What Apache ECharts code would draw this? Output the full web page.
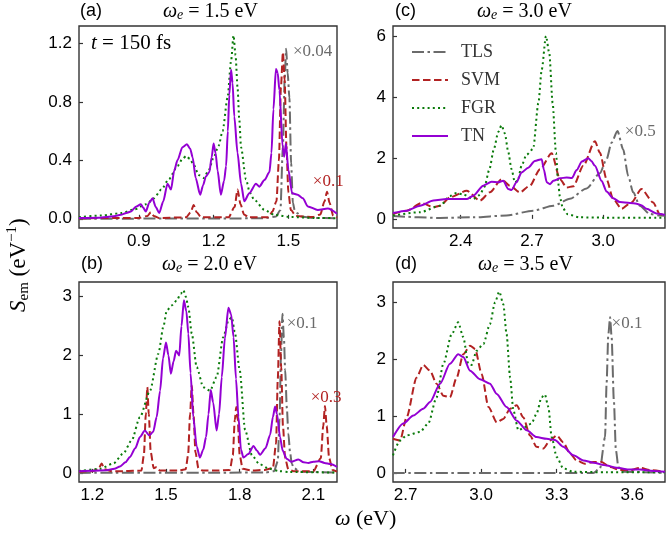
<!DOCTYPE html>
<html><head><meta charset="utf-8">
<script src="https://cdn.jsdelivr.net/npm/echarts@6/dist/echarts.min.js"></script>
<style>html,body{margin:0;padding:0;background:#fff}#c{width:666px;height:541px}</style>
</head><body><div id="c"></div>
<script>
// ---------- panel (a): omega_e = 1.5 eV ----------
const tlsA = [[0.66,0],[1.40,0.003],[1.45,0.015],[1.468,0.06],[1.478,0.5],[1.485,0.95],[1.491,1.165],[1.497,1.0],[1.504,0.83],[1.511,0.38],[1.518,0.11],[1.525,0.06],[1.535,0.04],[1.55,0.015],[1.60,0.006],[1.695,0.003]];
const svmA = [[0.66,0.004],[0.90,0.006],[0.935,0.02],[0.948,0.045],[0.96,0.02],[0.98,0.006],[1.09,0.01],[1.108,0.045],[1.12,0.095],[1.132,0.045],[1.15,0.01],[1.26,0.01],[1.284,0.08],[1.296,0.20],[1.308,0.10],[1.322,0.03],[1.34,0.01],[1.42,0.01],[1.436,0.05],[1.452,0.12],[1.462,0.40],[1.470,0.90],[1.478,1.14],[1.485,0.95],[1.492,0.50],[1.50,0.18],[1.51,0.06],[1.53,0.02],[1.60,0.012],[1.628,0.03],[1.645,0.12],[1.655,0.186],[1.665,0.11],[1.68,0.02],[1.695,0.008]];
const fgrA = [[0.66,0.012],[0.75,0.022],[0.828,0.039],[0.883,0.065],[0.93,0.10],[0.96,0.14],[0.99,0.20],[1.02,0.27],[1.055,0.36],[1.075,0.41],[1.09,0.43],[1.105,0.41],[1.12,0.37],[1.14,0.30],[1.16,0.28],[1.18,0.33],[1.20,0.42],[1.22,0.50],[1.236,0.60],[1.256,0.83],[1.270,1.08],[1.280,1.255],[1.288,1.12],[1.296,0.90],[1.303,0.68],[1.310,0.49],[1.330,0.27],[1.345,0.18],[1.363,0.13],[1.404,0.061],[1.444,0.027],[1.51,0.012],[1.60,0.006],[1.695,0.004]];
const tnA = [[0.66,0.005],[0.74,0.008],[0.80,0.018],[0.828,0.027],[0.850,0.040],[0.868,0.05],[0.890,0.085],[0.908,0.10],[0.918,0.075],[0.928,0.05],[0.942,0.11],[0.955,0.14],[0.968,0.08],[0.982,0.04],[0.998,0.12],[1.015,0.24],[1.029,0.20],[1.042,0.33],[1.055,0.40],[1.075,0.49],[1.093,0.51],[1.106,0.48],[1.116,0.42],[1.128,0.28],[1.146,0.165],[1.158,0.23],[1.169,0.29],[1.183,0.32],[1.192,0.42],[1.200,0.515],[1.208,0.45],[1.216,0.33],[1.229,0.165],[1.242,0.26],[1.250,0.36],[1.257,0.60],[1.263,0.85],[1.270,1.02],[1.276,0.93],[1.283,0.70],[1.296,0.45],[1.310,0.24],[1.323,0.12],[1.343,0.175],[1.37,0.24],[1.383,0.22],[1.404,0.265],[1.424,0.32],[1.432,0.45],[1.440,0.75],[1.450,1.025],[1.457,1.00],[1.464,0.88],[1.477,0.49],[1.483,0.425],[1.490,0.515],[1.500,0.335],[1.515,0.175],[1.537,0.165],[1.558,0.14],[1.578,0.085],[1.618,0.06],[1.658,0.07],[1.695,0.035]];

// ---------- panel (b): omega_e = 2.0 eV ----------
const tlsB = [[1.146,0],[1.90,0.005],[1.94,0.03],[1.955,0.2],[1.962,0.9],[1.968,2.0],[1.974,2.71],[1.980,2.3],[1.985,1.75],[1.992,1.1],[1.998,0.67],[2.005,0.35],[2.012,0.15],[2.022,0.08],[2.035,0.05],[2.05,0.02],[2.196,0.005]];
const svmB = [[1.146,0.02],[1.20,0.03],[1.225,0.06],[1.238,0.16],[1.25,0.06],[1.28,0.03],[1.33,0.03],[1.40,0.04],[1.41,0.3],[1.418,1.0],[1.424,1.46],[1.43,1.0],[1.438,0.35],[1.45,0.08],[1.462,0.10],[1.475,0.04],[1.55,0.04],[1.58,0.06],[1.59,0.3],[1.598,1.0],[1.605,1.49],[1.612,1.0],[1.62,0.35],[1.632,0.08],[1.65,0.04],[1.70,0.04],[1.76,0.05],[1.772,0.3],[1.78,0.9],[1.786,1.12],[1.792,0.9],[1.80,0.3],[1.812,0.07],[1.85,0.04],[1.90,0.05],[1.935,0.08],[1.948,0.5],[1.955,1.6],[1.962,2.58],[1.969,1.8],[1.976,0.8],[1.985,0.25],[1.998,0.06],[2.02,0.03],[2.10,0.03],[2.13,0.25],[2.14,0.8],[2.147,1.14],[2.154,0.8],[2.164,0.25],[2.178,0.05],[2.196,0.02]];
const fgrB = [[1.146,0.03],[1.231,0.07],[1.286,0.16],[1.326,0.33],[1.36,0.55],[1.394,0.95],[1.435,1.40],[1.469,2.03],[1.49,2.5],[1.503,2.76],[1.523,2.85],[1.543,2.93],[1.56,3.05],[1.571,3.11],[1.581,3.0],[1.591,2.82],[1.605,2.37],[1.625,1.8],[1.652,1.46],[1.679,1.40],[1.706,1.63],[1.733,2.31],[1.755,2.6],[1.768,2.65],[1.78,2.4],[1.80,1.75],[1.822,0.73],[1.85,0.30],[1.88,0.15],[1.92,0.07],[1.96,0.03],[2.0,0.015],[2.196,0.005]];
const tnB = [[1.146,0.03],[1.20,0.035],[1.258,0.045],[1.29,0.07],[1.313,0.11],[1.335,0.18],[1.353,0.27],[1.375,0.42],[1.394,0.61],[1.414,0.72],[1.432,0.64],[1.448,0.70],[1.462,0.95],[1.476,1.40],[1.488,1.95],[1.50,2.22],[1.51,2.0],[1.52,1.69],[1.531,1.9],[1.541,2.08],[1.554,2.0],[1.563,2.5],[1.573,2.94],[1.583,2.75],[1.591,2.37],[1.60,1.7],[1.611,0.95],[1.625,0.45],[1.638,0.26],[1.652,0.4],[1.663,0.61],[1.673,1.0],[1.682,1.41],[1.692,1.2],[1.706,0.72],[1.716,1.0],[1.727,1.63],[1.74,2.3],[1.754,2.81],[1.765,2.7],[1.775,2.31],[1.785,1.6],[1.795,0.95],[1.805,0.4],[1.815,0.26],[1.835,0.32],[1.856,0.46],[1.87,0.38],[1.883,0.31],[1.905,0.42],[1.924,0.65],[1.935,0.95],[1.944,1.13],[1.952,1.0],[1.964,0.61],[1.975,0.38],[1.991,0.24],[2.01,0.19],[2.039,0.23],[2.06,0.18],[2.08,0.17],[2.10,0.19],[2.123,0.2],[2.145,0.17],[2.17,0.15],[2.196,0.1]];

// ---------- panel (c): omega_e = 3.0 eV ----------
const tlsC = [[2.115,0.09],[2.313,0.03],[2.453,0.05],[2.593,0.11],[2.705,0.27],[2.79,0.43],[2.86,0.66],[2.93,1.0],[2.986,1.5],[3.014,1.96],[3.035,2.5],[3.06,2.88],[3.084,2.28],[3.105,1.41],[3.126,0.87],[3.154,0.43],[3.196,0.16],[3.238,0.11],[3.26,0.1]];
const svmC = [[2.115,0.16],[2.173,0.27],[2.236,0.52],[2.285,0.38],[2.313,0.43],[2.355,0.71],[2.425,0.92],[2.481,0.6],[2.523,0.87],[2.572,1.3],[2.607,1.09],[2.649,0.87],[2.691,1.09],[2.734,1.63],[2.783,2.15],[2.818,1.3],[2.846,1.03],[2.874,1.07],[2.916,1.74],[2.965,2.55],[2.986,2.17],[3.014,1.3],[3.042,0.65],[3.077,0.33],[3.119,0.54],[3.161,0.98],[3.21,0.54],[3.238,0.16],[3.26,0.12]];
const fgrC = [[2.115,0.11],[2.229,0.22],[2.313,0.43],[2.355,0.75],[2.383,0.85],[2.41,0.8],[2.453,0.65],[2.48,0.78],[2.50,1.05],[2.52,1.6],[2.54,2.3],[2.558,2.85],[2.572,3.07],[2.586,2.8],[2.60,2.2],[2.614,1.63],[2.628,1.2],[2.64,1.25],[2.656,1.74],[2.677,2.1],[2.705,2.3],[2.727,3.8],[2.741,4.89],[2.759,6.0],[2.773,5.43],[2.787,3.8],[2.801,2.17],[2.81,1.2],[2.818,0.7],[2.83,0.35],[2.85,0.15],[2.9,0.05],[3.0,0.04],[3.26,0.04]];
const tnC = [[2.115,0.19],[2.173,0.27],[2.229,0.43],[2.285,0.60],[2.341,0.65],[2.369,0.65],[2.425,0.65],[2.453,0.76],[2.495,1.09],[2.53,1.22],[2.558,1.20],[2.579,1.25],[2.60,0.98],[2.614,0.95],[2.635,1.2],[2.656,1.52],[2.684,1.68],[2.712,1.9],[2.741,1.96],[2.75,1.62],[2.762,1.2],[2.776,1.14],[2.79,1.25],[2.818,1.33],[2.846,1.36],[2.868,1.34],[2.888,1.6],[2.91,1.88],[2.937,1.99],[2.95,1.9],[2.965,1.74],[2.993,1.25],[3.014,0.9],[3.042,0.68],[3.07,0.55],[3.112,0.52],[3.14,0.5],[3.16,0.45],[3.182,0.33],[3.224,0.18],[3.26,0.13]];

// ---------- panel (d): omega_e = 3.5 eV ----------
const tlsD = [[2.65,0],[3.445,0],[3.472,0.08],[3.492,0.63],[3.498,1.57],[3.505,2.44],[3.512,2.74],[3.518,2.39],[3.527,1.27],[3.535,0.4],[3.545,0.1],[3.565,0.02],[3.73,0]];
const svmD = [[2.65,0.6],[2.678,0.57],[2.704,0.98],[2.744,1.68],[2.77,1.9],[2.797,1.8],[2.823,1.57],[2.85,1.36],[2.876,1.33],[2.903,1.68],[2.929,2.09],[2.956,2.24],[2.976,2.18],[3.002,1.74],[3.029,1.16],[3.062,0.89],[3.088,0.95],[3.115,1.13],[3.141,1.19],[3.167,0.98],[3.194,0.66],[3.22,0.46],[3.247,0.43],[3.273,0.57],[3.3,0.66],[3.326,0.54],[3.353,0.34],[3.379,0.22],[3.412,0.16],[3.445,0.19],[3.478,0.19],[3.512,0.105],[3.551,0.05],[3.591,0.05],[3.631,0.09],[3.67,0.05],[3.73,0.02]];
const fgrD = [[2.65,0.31],[2.678,0.57],[2.704,0.66],[2.757,0.72],[2.79,0.87],[2.823,1.33],[2.85,1.92],[2.883,2.44],[2.909,2.65],[2.929,2.39],[2.949,1.92],[2.962,1.9],[2.982,2.15],[3.009,2.27],[3.035,2.62],[3.055,3.0],[3.072,3.19],[3.088,2.97],[3.101,2.44],[3.115,1.68],[3.128,1.1],[3.148,0.75],[3.174,0.81],[3.2,0.87],[3.22,1.04],[3.24,1.33],[3.253,1.38],[3.267,1.16],[3.28,0.63],[3.30,0.28],[3.326,0.08],[3.366,0.02],[3.5,0.01],[3.73,0.01]];
const tnD = [[2.65,0.63],[2.691,0.87],[2.731,1.01],[2.77,1.13],[2.797,1.25],[2.837,1.57],[2.876,1.92],[2.909,2.09],[2.929,2.04],[2.956,1.8],[2.995,1.65],[3.035,1.57],[3.062,1.39],[3.101,1.16],[3.141,0.92],[3.181,0.75],[3.22,0.63],[3.26,0.60],[3.293,0.58],[3.326,0.46],[3.366,0.31],[3.406,0.22],[3.445,0.18],[3.498,0.13],[3.538,0.09],[3.591,0.06],[3.631,0.06],[3.684,0.035],[3.73,0.02]];

// ---------- ticks ----------
const xTicksA = [0.9, 1.2, 1.5];
const xTicksB = [1.2, 1.5, 1.8, 2.1];
const xTicksC = [2.4, 2.7, 3.0];
const xTicksD = [2.7, 3.0, 3.3, 3.6];
const yTicksA = [0, 0.4, 0.8, 1.2];
const yTicksB = [0, 1, 2, 3];
const yTicksC = [0, 2, 4, 6];
const yTicksD = [0, 1, 2, 3];

// ---------- scale-factor notes [x, y, text, series] ----------
const notesA = [[1.518, 1.147, '×0.04', 'TLS'], [1.598, 0.254, '×0.1', 'SVM']];
const notesB = [[1.991, 2.54, '×0.1', 'TLS'], [2.089, 1.29, '×0.3', 'SVM']];
const notesC = [[3.091, 2.86, '×0.5', 'TLS']];
const notesD = [[3.518, 2.63, '×0.1', 'TLS']];

const seriesNames = ['TLS', 'SVM', 'FGR', 'TN'];
const colors = {TLS: '#6b6b6b', SVM: '#b22222', FGR: '#0a7a0a', TN: '#9400d3'};
const dashes = {TLS: [12, 3.5, 2.5, 3.5], SVM: [7.5, 3.5], FGR: [2, 3.2], TN: 'solid'};

const SANS = 'Liberation Sans';
const SERIF = 'Liberation Serif';

const panels = [
  {grid: {left: 79, top: 26, width: 258, height: 202}, x: [0.66, 1.695], y: [-0.063, 1.32], xt: xTicksA, yt: yTicksA, yd: 1,
   data: {TLS: tlsA, SVM: svmA, FGR: fgrA, TN: tnA}, notes: notesA},
  {grid: {left: 393, top: 26, width: 272, height: 202}, x: [2.115, 3.26], y: [-0.3, 6.33], xt: xTicksC, yt: yTicksC, yd: 0,
   data: {TLS: tlsC, SVM: svmC, FGR: fgrC, TN: tnC}, notes: notesC},
  {grid: {left: 79, top: 282, width: 258, height: 200}, x: [1.146, 2.196], y: [-0.155, 3.25], xt: xTicksB, yt: yTicksB, yd: 0,
   data: {TLS: tlsB, SVM: svmB, FGR: fgrB, TN: tnB}, notes: notesB},
  {grid: {left: 393, top: 282, width: 272, height: 200}, x: [2.65, 3.73], y: [-0.16, 3.36], xt: xTicksD, yt: yTicksD, yd: 0,
   data: {TLS: tlsD, SVM: svmD, FGR: fgrD, TN: tnD}, notes: notesD}
];

const grids = [], xAxes = [], yAxes = [], series = [];
panels.forEach((p, i) => {
  grids.push(Object.assign({show: true, borderColor: '#333', borderWidth: 1.4, backgroundColor: 'transparent', containLabel: false}, p.grid));
  const tick = {show: true, inside: true, length: 4, lineStyle: {color: '#333', width: 1.2}};
  xAxes.push({type: 'value', gridIndex: i, min: p.x[0], max: p.x[1],
    axisLine: {show: false}, splitLine: {show: false},
    axisTick: Object.assign({customValues: p.xt}, tick),
    axisLabel: {customValues: p.xt, formatter: v => v.toFixed(1), fontFamily: SANS, fontSize: 17, color: '#000', margin: 5}});
  yAxes.push({type: 'value', gridIndex: i, min: p.y[0], max: p.y[1],
    axisLine: {show: false}, splitLine: {show: false},
    axisTick: Object.assign({customValues: p.yt}, tick),
    axisLabel: {customValues: p.yt, formatter: v => v.toFixed(p.yd), fontFamily: SANS, fontSize: 17, color: '#000', margin: 7}});
  seriesNames.forEach(name => {
    const s = {type: 'line', name: name, xAxisIndex: i, yAxisIndex: i, data: p.data[name],
      showSymbol: false, symbol: 'none', smooth: 0.25, smoothMonotone: 'x', animation: false, silent: true,
      lineStyle: {color: colors[name], width: 2, type: dashes[name], cap: 'butt'},
      itemStyle: {color: colors[name]}};
    const mine = p.notes.filter(n => n[3] === name);
    if (mine.length) {
      s.markPoint = {symbol: 'circle', symbolSize: 0, animation: false, silent: true,
        data: mine.map(n => ({coord: [n[0], n[1]], name: n[2]})),
        label: {show: true, position: 'right', distance: 0, formatter: '{b}', color: colors[name], fontFamily: SERIF, fontSize: 17}};
    }
    series.push(s);
  });
});

const richTitle = {
  i: {fontFamily: SERIF, fontStyle: 'italic', fontSize: 20, fill: '#000'},
  s: {fontFamily: SERIF, fontStyle: 'italic', fontSize: 14, fill: '#000', verticalAlign: 'bottom'},
  n: {fontFamily: SERIF, fontSize: 20, fill: '#000'}
};
function title(x, y, val) {
  return {type: 'text', left: x, top: y, style: {text: '{i|ω}{s|e}{n| = ' + val + ' eV}', rich: richTitle}};
}
function tag(x, y, t) {
  return {type: 'text', left: x, top: y, style: {text: t, font: '18px ' + SANS, fill: '#000'}};
}

const graphics = [
  tag(80, 2, '(a)'), tag(395, 2, '(c)'), tag(81, 255, '(b)'), tag(395, 255, '(d)'),
  title(163, 2, '1.5'), title(477, 2, '3.0'), title(162, 255, '2.0'), title(478, 255, '3.5'),
  {type: 'text', left: 91, top: 33, style: {text: '{i|t}{n| = 150 fs}', rich: {
    i: {fontFamily: SERIF, fontStyle: 'italic', fontSize: 21, fill: '#000'}, n: {fontFamily: SERIF, fontSize: 21, fill: '#000'}}}},
  {type: 'text', left: 335, top: 508, style: {text: '{i|ω}{n| (eV)}', rich: {
    i: {fontFamily: SERIF, fontStyle: 'italic', fontSize: 22, fill: '#000'}, n: {fontFamily: SERIF, fontSize: 22, fill: '#000'}}}},
  {type: 'text', x: 5, y: 312, rotation: Math.PI / 2, style: {text: '{i|S}{s|em}{n| (eV}{p|−1}{n|)}', rich: {
    i: {fontFamily: SERIF, fontStyle: 'italic', fontSize: 23, fill: '#000', lineHeight: 27},
    s: {fontFamily: SERIF, fontSize: 15, fill: '#000', verticalAlign: 'bottom', lineHeight: 15},
    n: {fontFamily: SERIF, fontSize: 23, fill: '#000', lineHeight: 27},
    p: {fontFamily: SERIF, fontSize: 15, fill: '#000', verticalAlign: 'top', lineHeight: 15}}}}
];

const chart = echarts.init(document.getElementById('c'), null, {renderer: 'canvas'});
chart.setOption({
  animation: false,
  backgroundColor: '#fff',
  grid: grids, xAxis: xAxes, yAxis: yAxes, series: series,
  legend: {data: seriesNames, orient: 'vertical', left: 406, top: 38, itemWidth: 36, itemHeight: 14, itemGap: 10,
    selectedMode: false, itemStyle: {opacity: 0},
    textStyle: {fontFamily: SERIF, fontSize: 18, color: '#333', padding: [0, 0, 0, 8]}},
  graphic: graphics
});
</script>
</body></html>
